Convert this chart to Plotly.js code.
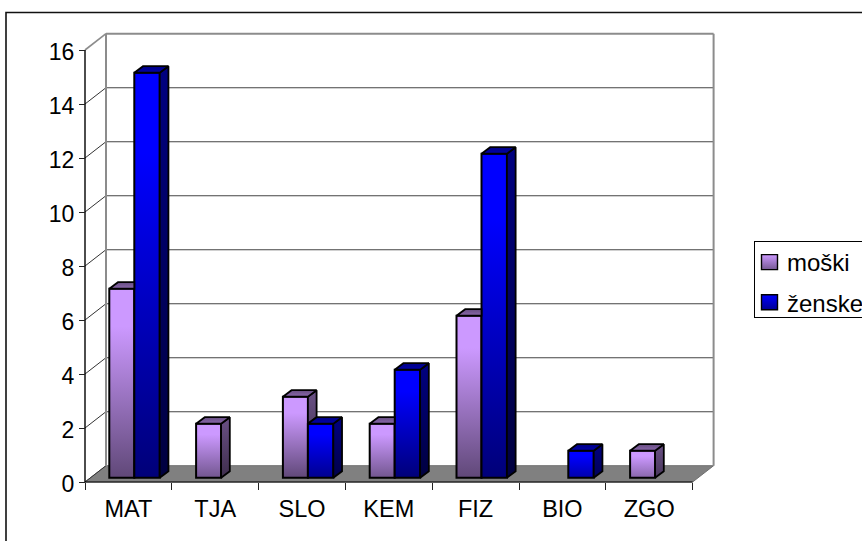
<!DOCTYPE html>
<html><head><meta charset="utf-8">
<script src="https://cdn.plot.ly/plotly-3.0.1.min.js"></script>
<style>html,body{margin:0;padding:0;background:#fff;overflow:hidden}#c{width:862px;height:541px}</style>
</head><body><div id="c"></div>
<script>
const categories = ['MAT','TJA','SLO','KEM','FIZ','BIO','ZGO'];
const moski  = [7,2,3,2,6,0,1];
const zenske = [15,0,2,4,12,1,0];
const yTicks = [0,2,4,6,8,10,12,14,16];
const seriesNames = ['moški','ženske'];

// layout geometry
const W=862,H=541, mL=82,mR=145,mT=30,mB=56;
const pxX=86.8, pxY=27;          // pixels per category / per unit
const PW=W-mL-mR, PH=H-mT-mB;
const xr=[-0.5-3/pxX, -0.5-3/pxX+PW/pxX], yr=[-3/pxY, -3/pxY+PH/pxY];
const wallDx=21/pxX, wallDy=16.3/pxY;   // chart depth
const barDx=8.7/pxX, barDy=6.5/pxY;     // bar depth
const barBase=4.3/pxY;
const off=[-0.22,0.068], bw=[0.288,0.293];
const xEnd=6.5;
const yMax=yTicks[yTicks.length-1];

const scale=(rgb,f)=>`rgb(${rgb.map(c=>Math.round(c*f)).join(',')})`;
const base=[[204,153,255],[0,0,255]];
const darkF=v=>Math.max(.47,.78-.11*v);

const traces=[];
[moski,zenske].forEach((vals,s)=>{
  traces.push({type:'bar',name:seriesNames[s],x:categories.map((c,i)=>i),y:vals.map(v=>v||null),base:barBase,
    offset:off[s],width:bw[s],legendgroup:seriesNames[s],
    marker:{color:scale(base[s],.8),line:{color:'#000',width:2}},hoverinfo:'y'});
});
function face(xs,ys,fillTop,fillBot,yTop,yBot){
  traces.push({type:'scatter',mode:'lines',x:xs.concat(xs[0]),y:ys.concat(ys[0]),fill:'toself',
    line:{color:'#000',width:1.8},showlegend:false,hoverinfo:'skip',cliponaxis:false,
    fillgradient:{type:'vertical',start:yTop,stop:yBot,colorscale:[[0,fillTop],[1,fillBot]]}});
}
categories.forEach((c,i)=>{
  [moski,zenske].forEach((vals,s)=>{
    const v=vals[i]; if(!v) return;
    const x0=i+off[s], x1=x0+bw[s], t=v+barBase;
    const nb = s===0 ? zenske[i] : 0;
    const f=darkF(v);
    const sideTopF = s===0?.52:.5;
    // side face – hidden by the neighbouring bar up to that bar's height
    if(nb<v){
      const b=(nb?nb:0)+barBase;
      face([x1,x1+barDx,x1+barDx,x1],[b,b+barDy,t+barDy,t],
        scale(base[s],sideTopF),scale(base[s],sideTopF*(f*.95+.05)),t+barDy,barBase);
    }
    // top face – cut at the neighbouring bar if that one is taller
    const xR = nb>v ? x1 : x1+barDx;
    const xF = x1;
    face([x0,x0+barDx,xR,xF],[t,t+barDy,t+barDy,t],
      scale(base[s],.5),scale(base[s],.68),t+barDy,t);
  });
});

const shapes=[];
const xF0=-0.5, xB0=-0.5+wallDx, xB1=xEnd+wallDx;
// floor
shapes.push({type:'path',xref:'x',yref:'y',layer:'below',fillcolor:'#808080',line:{color:'#6f6f6f',width:1},
  path:`M${xF0},0L${xEnd},0L${xB1},${wallDy}L${xB0},${wallDy}Z`});
// gridlines on the back and side wall
yTicks.forEach(v=>{
  const top=v===yMax, col=top?'#8c8c8c':'#444', w=top?2:1.1;
  if(v>0) shapes.push({type:'line',xref:'x',yref:'y',layer:'below',x0:xB0,x1:xB1,y0:v+wallDy,y1:v+wallDy,line:{color:col,width:w}});
  shapes.push({type:'line',xref:'x',yref:'y',layer:'below',x0:xF0,x1:xB0,y0:v,y1:v+wallDy,line:{color:top?'#8c8c8c':'#333',width:top?1.6:1}});
});
// wall edges
[xB0,xB1].forEach(x=>shapes.push({type:'line',xref:'x',yref:'y',layer:'below',x0:x,x1:x,y0:wallDy,y1:yMax+wallDy,line:{color:'#8c8c8c',width:2}}));
// axis lines
shapes.push({type:'line',xref:'x',yref:'y',layer:'below',x0:xF0,x1:xF0,y0:0,y1:yMax,line:{color:'#000',width:1.4}});
shapes.push({type:'line',xref:'x',yref:'y',layer:'below',x0:xF0,x1:xEnd,y0:0,y1:0,line:{color:'#000',width:1.2}});
// outer chart border
shapes.push({type:'rect',xref:'paper',yref:'paper',layer:'below',
  x0:(6-mL)/PW,x1:1.5,y0:-0.5,y1:(H-mB-12.5)/PH,line:{color:'#111',width:1.6},fillcolor:'rgba(0,0,0,0)'});

const family='"Liberation Sans",Arial,sans-serif';
const font={family,size:23.5,color:'#000'};
const layout={width:W,height:H,margin:{l:mL,r:mR,t:mT,b:mB,pad:0,autoexpand:false},
  paper_bgcolor:'#fff',plot_bgcolor:'rgba(0,0,0,0)',font,barmode:'overlay',
  showlegend:true,
  legend:{x:(746-mL)/PW,xanchor:'left',y:(H-mB-239)/PH,yanchor:'top',bgcolor:'#fff',bordercolor:'#000',borderwidth:1,
    font:{family,size:24,color:'#000'},tracegroupgap:6,traceorder:'grouped',itemclick:false,itemdoubleclick:false},
  xaxis:{type:'linear',range:xr,anchor:'free',position:3/PH,tickmode:'array',tickvals:categories.map((c,i)=>i),
    ticktext:categories,ticks:'',showgrid:false,zeroline:false,showline:false,tickfont:font,ticklabelstandoff:10,
    minor:{tickmode:'array',tickvals:categories.map((c,i)=>i-.5).concat(xEnd),ticks:'outside',ticklen:7,tickcolor:'#222',tickwidth:1,showgrid:false}},
  yaxis:{type:'linear',range:yr,anchor:'free',position:3/PW,tickmode:'array',tickvals:yTicks,ticks:'outside',ticklen:6,
    tickcolor:'#222',tickwidth:1,showgrid:false,zeroline:false,showline:false,tickfont:{family,size:23,color:'#000'}},
  shapes};

Plotly.newPlot('c',traces,layout,{displayModeBar:false,staticPlot:true}).then(gd=>{
  const NS='http://www.w3.org/2000/svg';
  const svg=gd.querySelector('.main-svg');
  let defs=svg.querySelector('defs');
  function grad(id,stops){
    const g=document.createElementNS(NS,'linearGradient');
    g.setAttribute('id',id);g.setAttribute('x1','0');g.setAttribute('x2','0');g.setAttribute('y1','0');g.setAttribute('y2','1');
    stops.forEach(([o,c])=>{const st=document.createElementNS(NS,'stop');st.setAttribute('offset',o);st.setAttribute('stop-color',c);g.appendChild(st);});
    defs.appendChild(g);
  }
  gd.querySelectorAll('.barlayer .trace').forEach((tr,s)=>{
    tr.querySelectorAll('.point').forEach((pt,i)=>{
      const v=[moski,zenske][s][i], f=darkF(v), id=`bargrad-${s}-${i}`;
      grad(id,[[0,scale(base[s],1)],[.2,scale(base[s],1)],[1,scale(base[s],f)]]);
      const p=pt.querySelector('path'); if(p) p.style.fill=`url(#${id})`;
    });
  });
  // legend: bring swatches and box to the reference's arrangement
  const bg=gd.querySelector('.legend .bg');
  if(bg){
    const x=+bg.getAttribute('x')||0,w=+bg.getAttribute('width'),y=+bg.getAttribute('y')||0;
    bg.setAttribute('x',x+8);bg.setAttribute('width',w+30);bg.setAttribute('y',y+2);bg.setAttribute('height',76);
  }
  gd.querySelectorAll('.legend .traces').forEach((t,s)=>{
    grad(`leggrad-${s}`,[[0,scale(base[s],1)],[1,scale(base[s],.58)]]);
    const p=t.querySelector('.legendpoints path');
    if(p){p.setAttribute('d','M10.5,7.5H-5.5V-7.5H10.5Z');p.style.fill=`url(#leggrad-${s})`;p.style.stroke='#000';p.style.strokeWidth='1.4px';}
  });
  // centre the value labels on their ticks
  gd.querySelectorAll('.ytick text').forEach(t=>{t.setAttribute('y',(+t.getAttribute('y')||0)+1.5);});
});
</script></body></html>
